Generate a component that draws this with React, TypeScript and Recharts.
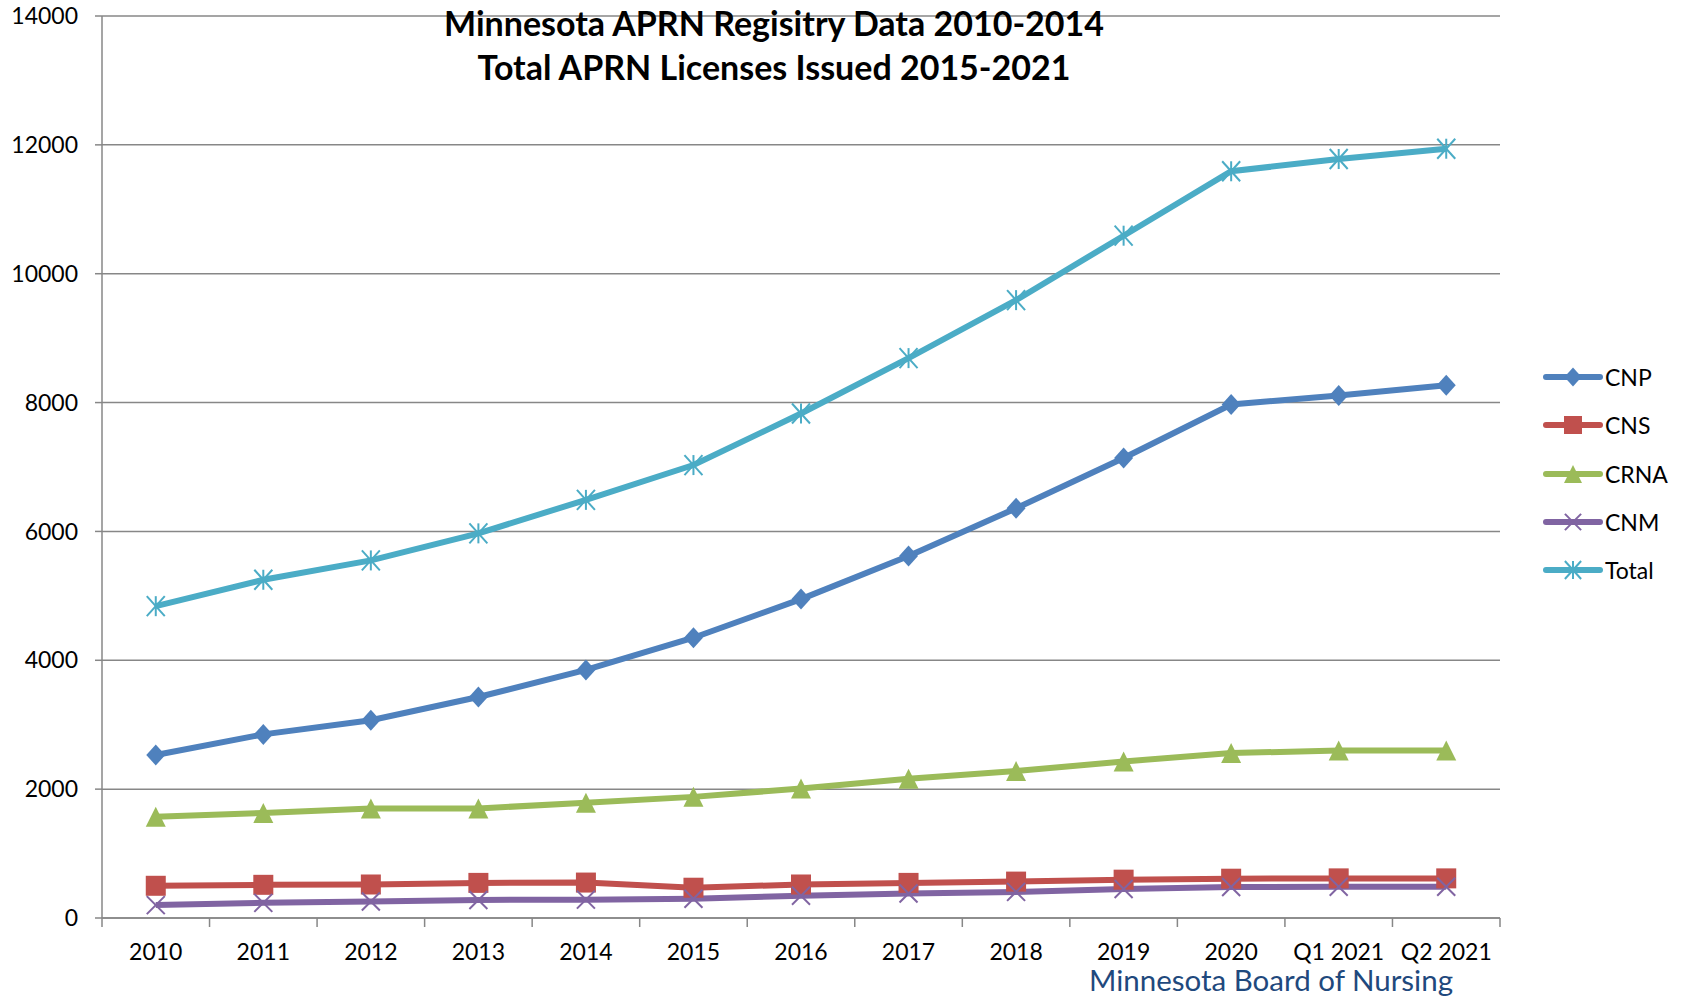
import React from "react";
import { CartesianGrid, Line, LineChart, XAxis, YAxis } from "recharts";

const categories = ["2010", "2011", "2012", "2013", "2014", "2015", "2016", "2017", "2018", "2019", "2020", "Q1 2021", "Q2 2021"];
const cnp = [2530, 2850, 3070, 3430, 3850, 4350, 4950, 5620, 6360, 7140, 7970, 8110, 8270];
const cns = [500, 515, 520, 545, 550, 470, 520, 545, 565, 595, 610, 615, 615];
const crna = [1570, 1630, 1700, 1700, 1790, 1880, 2010, 2160, 2280, 2430, 2560, 2600, 2600];
const cnm = [200, 235, 255, 280, 285, 300, 345, 380, 405, 450, 480, 485, 485];
const total = [4840, 5250, 5550, 5970, 6490, 7030, 7830, 8690, 9590, 10590, 11590, 11780, 11940];
const yTicks = [0, 2000, 4000, 6000, 8000, 10000, 12000, 14000];

const data = categories.map((name, i) => ({
  name,
  CNP: cnp[i],
  CNS: cns[i],
  CRNA: crna[i],
  CNM: cnm[i],
  Total: total[i],
}));

const FONT = "Lato, 'Open Sans', sans-serif";
const GRID = "#878787";

const colors = {
  CNP: "#4F81BD",
  CNS: "#C0504D",
  CRNA: "#9BBB59",
  CNM: "#8064A2",
  Total: "#4BACC6",
};

type Kind = keyof typeof colors;

function Marker({ kind, cx, cy, s = 1 }: { kind: Kind; cx: number; cy: number; s?: number }) {
  const c = colors[kind];
  if (kind === "CNP") {
    const w = 9.5 * s, h = 10.5 * s;
    return <polygon points={`${cx},${cy - h} ${cx + w},${cy} ${cx},${cy + h} ${cx - w},${cy}`} fill={c} />;
  }
  if (kind === "CNS") {
    const r = 10 * s;
    return <rect x={cx - r} y={cy - r} width={r * 2} height={r * 2} fill={c} />;
  }
  if (kind === "CRNA") {
    const w = 10 * s, h = 10 * s;
    return <polygon points={`${cx},${cy - h} ${cx + w},${cy + h} ${cx - w},${cy + h}`} fill={c} />;
  }
  if (kind === "CNM") {
    const r = 9 * s;
    return (
      <g stroke={c} strokeWidth={2}>
        <line x1={cx - r} y1={cy - r} x2={cx + r} y2={cy + r} />
        <line x1={cx - r} y1={cy + r} x2={cx + r} y2={cy - r} />
      </g>
    );
  }
  const r = 10 * s;
  return (
    <g stroke={c} strokeWidth={2}>
      <line x1={cx - r * 0.9} y1={cy - r} x2={cx + r * 0.9} y2={cy + r} />
      <line x1={cx - r * 0.9} y1={cy + r} x2={cx + r * 0.9} y2={cy - r} />
      <line x1={cx} y1={cy - r} x2={cx} y2={cy + r} />
    </g>
  );
}

const dotFor = (kind: Kind) => (props: any) =>
  <Marker key={`${kind}-${props.index}`} kind={kind} cx={props.cx} cy={props.cy} />;

function XTick(props: any) {
  const { x, y, payload, index, visibleTicksCount } = props;
  const half = payload.offset || 53.8;
  const last = index === visibleTicksCount - 1;
  return (
    <g>
      <line x1={x - half} y1={y - 8} x2={x - half} y2={y + 1} stroke={GRID} strokeWidth={1.5} />
      {last && <line x1={x + half} y1={y - 8} x2={x + half} y2={y + 1} stroke={GRID} strokeWidth={1.5} />}
      <text x={x} y={y + 34} textAnchor="middle" fontSize={23} fill="#000" fontFamily={FONT}>
        {payload.value}
      </text>
    </g>
  );
}

const series: Kind[] = ["CNP", "CNS", "CRNA", "CNM", "Total"];

export default function App() {
  return (
    <div style={{ position: "absolute", left: 0, top: 0, width: 1683, height: 998, background: "#fff", fontFamily: FONT, overflow: "hidden" }}>
      <LineChart
        width={1683}
        height={998}
        data={data}
        margin={{ top: 16, right: 183, bottom: 0, left: 0 }}
      >
        <CartesianGrid vertical={false} stroke={GRID} strokeWidth={1.5} />
        <XAxis
          dataKey="name"
          scale="band"
          axisLine={{ stroke: GRID, strokeWidth: 1.5 }}
          tickLine={false}
          tick={<XTick />}
          interval={0}
          height={80}
        />
        <YAxis
          domain={[0, 14000]}
          ticks={yTicks}
          width={102}
          axisLine={{ stroke: GRID, strokeWidth: 1.5 }}
          tickLine={{ stroke: GRID, strokeWidth: 1.5 }}
          tickSize={7}
          tickMargin={17}
          tick={{ fontSize: 23, fill: "#000", fontFamily: FONT }}
        />
        {series.map((k) => (
          <Line
            key={k}
            dataKey={k}
            stroke={colors[k]}
            strokeWidth={6}
            dot={dotFor(k)}
            activeDot={false}
            isAnimationActive={false}
          />
        ))}
      </LineChart>

      <div style={{ position: "absolute", left: 0, width: 1548, top: 1, textAlign: "center", fontWeight: 700, fontSize: 34, lineHeight: "44px", color: "#000" }}>
        <div>Minnesota APRN Regisitry Data 2010-2014</div>
        <div>Total APRN Licenses Issued 2015-2021</div>
      </div>

      <div style={{ position: "absolute", left: 1543, top: 353 }}>
        {series.map((k) => (
          <div key={k} style={{ display: "flex", alignItems: "center", height: 48.3 }}>
            <svg width={60} height={30}>
              <line x1={3} y1={15} x2={57} y2={15} stroke={colors[k]} strokeWidth={6} strokeLinecap="round" />
              <Marker kind={k} cx={30} cy={15} s={0.9} />
            </svg>
            <span style={{ fontSize: 23, color: "#000", marginLeft: 2 }}>{k}</span>
          </div>
        ))}
      </div>

      <div style={{ position: "absolute", left: 1089, top: 962, fontSize: 29.5, color: "#1F497D", whiteSpace: "nowrap" }}>
        Minnesota Board of Nursing
      </div>
    </div>
  );
}
